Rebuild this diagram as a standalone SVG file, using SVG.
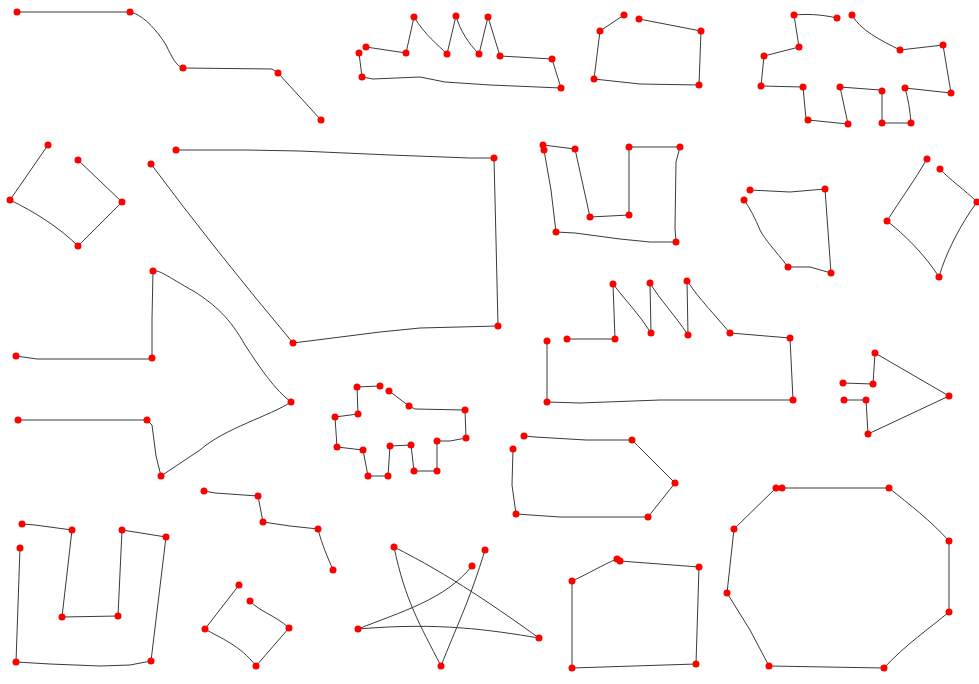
<svg xmlns="http://www.w3.org/2000/svg" width="979" height="684" viewBox="0 0 979 684">
<style>
.ln{fill:none;stroke:#3a3a3a;stroke-width:1;stroke-linejoin:round;stroke-linecap:round}
.pt circle{fill:#ff0000}
</style>
<rect width="979" height="684" fill="#fff"/>
<g id="connectors">
<path class="ln" d="M17,12 L130,12 C145,15 160,35 166,45 C172,57 176,66 183,68 L272,69 L278,73 L321,120"/>
<path class="ln" d="M366,47 L406,53 L414,17 C425,35 438,45 447,54 L456,16 C460,30 468,43 479,54 L488,17 L500,56 L552,59 L561,88 L490,85 L445,82 L420,77 L373,79 L362,77 L359,53"/>
<path class="ln" d="M624,15 L600,31 L594,79 L640,84 L699,85 L701,31 L639,19"/>
<path class="ln" d="M837,18 C820,14 805,14 794,15 L799,47 L764,56 L761,86 L803,87 L806,119 L808,120 L848,124 L840,87 L880,90 L882,91 L882,123 L911,123 C910,110 908,98 905,88 L951,93 L943,45 L900,50 C880,40 860,30 852,15"/>
<path class="ln" d="M48,145 L10,200 C35,212 60,228 78,246 L122,202 L78,160"/>
<path class="ln" d="M176,150 L245,150 L300,151 L390,155 L470,158 L494,158 L496,240 L498,326 L420,328 L380,332 L293,343 Q215,250 151,164"/>
<path class="ln" d="M16,356 L37,359 L152,359 L152,319 L153,271 C160,270 165,275 195,292 C215,305 230,318 245,345 C260,368 275,390 291,402 C270,416 225,428 200,450 L161,476 L156,456 L152,425 L147,420 L18,420"/>
<path class="ln" d="M380,386 L357,387 L358,414 L335,417 L337,447 L363,450 L368,476 L388,476 L390,446 L411,445 L414,471 L437,471 L437,441 L450,441 L466,438 L465,410 L415,409 L409,406 L389,391"/>
<path class="ln" d="M543,145 L575,149 L590,217 L629,215 L629,147 L680,147 L676,162 L675,228 L676,242 L650,242 L620,239 L575,233 L556,232 L551,190 L544,150"/>
<path class="ln" d="M750,190 L790,192 L825,189 L831,273 L810,267 L788,267 C775,250 765,240 760,230 C755,218 750,208 744,200"/>
<path class="ln" d="M927,159 C915,180 900,200 887,221 C905,235 925,255 939,277 C945,255 960,225 977,202 C965,190 950,180 940,169"/>
<path class="ln" d="M567,339 L615,339 L613,284 C625,300 640,315 651,333 L650,283 C660,300 675,315 688,335 L687,281 C700,300 715,315 730,333 L790,338 L793,400 L660,400 L580,403 L547,402 L547,341"/>
<path class="ln" d="M843,383 L873,384 L875,353 L949,396 L868,434 L866,400 L844,400"/>
<path class="ln" d="M524,436 L535,437 L586,440 L632,440 L675,483 L648,517 L560,517 L516,514 L512,485 L513,449"/>
<path class="ln" d="M204,491 L215,493 L258,496 L263,522 L290,526 L318,529 C322,545 328,558 333,570"/>
<path class="ln" d="M22,524 L35,525 L72,530 L62,617 L118,616 L122,530 L166,537 L151,661 L130,665 L100,666 L50,664 L16,662 L20,548"/>
<path class="ln" d="M239,585 L205,629 C220,638 240,645 256,666 L289,628 C275,615 260,612 250,601"/>
<path class="ln" d="M485,550 C470,600 455,630 441,666 C420,625 405,600 394,547 C450,575 500,610 539,638 C490,630 440,622 358,629 C400,612 445,600 472,566"/>
<path class="ln" d="M617,559 C600,566 590,573 572,581 L572,668 L696,664 L699,567 L620,561"/>
<path class="ln" d="M782,488 L889,488 C910,505 930,520 949,541 L949,612 C930,628 905,645 884,668 L769,666 L750,630 L727,593 L734,529 L776,488"/>
</g>
<g id="points" class="pt">
<g id="s1"><circle cx="17" cy="12" r="3.5"/><circle cx="130" cy="12" r="3.5"/><circle cx="183" cy="68" r="3.5"/><circle cx="278" cy="73" r="3.5"/><circle cx="321" cy="120" r="3.5"/></g>
<g id="s2"><circle cx="366" cy="47" r="3.5"/><circle cx="406" cy="53" r="3.5"/><circle cx="414" cy="17" r="3.5"/><circle cx="447" cy="54" r="3.5"/><circle cx="456" cy="16" r="3.5"/><circle cx="479" cy="54" r="3.5"/><circle cx="488" cy="17" r="3.5"/><circle cx="500" cy="56" r="3.5"/><circle cx="552" cy="59" r="3.5"/><circle cx="561" cy="88" r="3.5"/><circle cx="362" cy="77" r="3.5"/><circle cx="359" cy="53" r="3.5"/></g>
<g id="s3"><circle cx="624" cy="15" r="3.5"/><circle cx="600" cy="31" r="3.5"/><circle cx="594" cy="79" r="3.5"/><circle cx="699" cy="85" r="3.5"/><circle cx="701" cy="31" r="3.5"/><circle cx="639" cy="19" r="3.5"/></g>
<g id="s4"><circle cx="837" cy="18" r="3.5"/><circle cx="794" cy="15" r="3.5"/><circle cx="799" cy="47" r="3.5"/><circle cx="764" cy="56" r="3.5"/><circle cx="761" cy="86" r="3.5"/><circle cx="803" cy="87" r="3.5"/><circle cx="808" cy="120" r="3.5"/><circle cx="848" cy="124" r="3.5"/><circle cx="840" cy="87" r="3.5"/><circle cx="882" cy="91" r="3.5"/><circle cx="882" cy="123" r="3.5"/><circle cx="911" cy="123" r="3.5"/><circle cx="905" cy="88" r="3.5"/><circle cx="951" cy="93" r="3.5"/><circle cx="943" cy="45" r="3.5"/><circle cx="900" cy="50" r="3.5"/><circle cx="852" cy="15" r="3.5"/></g>
<g id="s5"><circle cx="48" cy="145" r="3.5"/><circle cx="10" cy="200" r="3.5"/><circle cx="78" cy="246" r="3.5"/><circle cx="122" cy="202" r="3.5"/><circle cx="78" cy="160" r="3.5"/></g>
<g id="s6"><circle cx="176" cy="150" r="3.5"/><circle cx="494" cy="158" r="3.5"/><circle cx="498" cy="326" r="3.5"/><circle cx="293" cy="343" r="3.5"/><circle cx="151" cy="164" r="3.5"/></g>
<g id="s7"><circle cx="16" cy="356" r="3.5"/><circle cx="152" cy="358" r="3.5"/><circle cx="153" cy="271" r="3.5"/><circle cx="291" cy="402" r="3.5"/><circle cx="161" cy="476" r="3.5"/><circle cx="147" cy="420" r="3.5"/><circle cx="18" cy="420" r="3.5"/></g>
<g id="s8"><circle cx="380" cy="386" r="3.5"/><circle cx="357" cy="387" r="3.5"/><circle cx="358" cy="414" r="3.5"/><circle cx="335" cy="417" r="3.5"/><circle cx="337" cy="447" r="3.5"/><circle cx="363" cy="450" r="3.5"/><circle cx="368" cy="476" r="3.5"/><circle cx="388" cy="476" r="3.5"/><circle cx="390" cy="446" r="3.5"/><circle cx="411" cy="445" r="3.5"/><circle cx="414" cy="471" r="3.5"/><circle cx="437" cy="471" r="3.5"/><circle cx="437" cy="441" r="3.5"/><circle cx="466" cy="438" r="3.5"/><circle cx="465" cy="410" r="3.5"/><circle cx="409" cy="406" r="3.5"/><circle cx="389" cy="391" r="3.5"/></g>
<g id="s9"><circle cx="543" cy="145" r="3.5"/><circle cx="544" cy="150" r="3.5"/><circle cx="575" cy="149" r="3.5"/><circle cx="590" cy="217" r="3.5"/><circle cx="629" cy="215" r="3.5"/><circle cx="629" cy="147" r="3.5"/><circle cx="680" cy="147" r="3.5"/><circle cx="676" cy="242" r="3.5"/><circle cx="556" cy="232" r="3.5"/></g>
<g id="s10"><circle cx="750" cy="190" r="3.5"/><circle cx="825" cy="189" r="3.5"/><circle cx="831" cy="273" r="3.5"/><circle cx="788" cy="267" r="3.5"/><circle cx="744" cy="200" r="3.5"/></g>
<g id="s11"><circle cx="927" cy="159" r="3.5"/><circle cx="887" cy="221" r="3.5"/><circle cx="939" cy="277" r="3.5"/><circle cx="977" cy="202" r="3.5"/><circle cx="940" cy="169" r="3.5"/></g>
<g id="s12"><circle cx="567" cy="339" r="3.5"/><circle cx="615" cy="339" r="3.5"/><circle cx="613" cy="284" r="3.5"/><circle cx="651" cy="333" r="3.5"/><circle cx="650" cy="283" r="3.5"/><circle cx="688" cy="335" r="3.5"/><circle cx="687" cy="281" r="3.5"/><circle cx="730" cy="333" r="3.5"/><circle cx="790" cy="338" r="3.5"/><circle cx="793" cy="400" r="3.5"/><circle cx="547" cy="402" r="3.5"/><circle cx="547" cy="341" r="3.5"/></g>
<g id="s13"><circle cx="843" cy="383" r="3.5"/><circle cx="873" cy="384" r="3.5"/><circle cx="875" cy="353" r="3.5"/><circle cx="949" cy="396" r="3.5"/><circle cx="868" cy="434" r="3.5"/><circle cx="866" cy="400" r="3.5"/><circle cx="844" cy="400" r="3.5"/></g>
<g id="s14"><circle cx="524" cy="436" r="3.5"/><circle cx="632" cy="440" r="3.5"/><circle cx="675" cy="483" r="3.5"/><circle cx="648" cy="517" r="3.5"/><circle cx="516" cy="514" r="3.5"/><circle cx="513" cy="449" r="3.5"/></g>
<g id="s15"><circle cx="204" cy="491" r="3.5"/><circle cx="258" cy="496" r="3.5"/><circle cx="263" cy="522" r="3.5"/><circle cx="318" cy="529" r="3.5"/><circle cx="333" cy="570" r="3.5"/></g>
<g id="s16"><circle cx="22" cy="524" r="3.5"/><circle cx="72" cy="530" r="3.5"/><circle cx="62" cy="617" r="3.5"/><circle cx="118" cy="616" r="3.5"/><circle cx="122" cy="530" r="3.5"/><circle cx="166" cy="537" r="3.5"/><circle cx="151" cy="661" r="3.5"/><circle cx="16" cy="662" r="3.5"/><circle cx="20" cy="548" r="3.5"/></g>
<g id="s17"><circle cx="239" cy="585" r="3.5"/><circle cx="205" cy="629" r="3.5"/><circle cx="256" cy="666" r="3.5"/><circle cx="289" cy="628" r="3.5"/><circle cx="250" cy="601" r="3.5"/></g>
<g id="s18"><circle cx="485" cy="550" r="3.5"/><circle cx="441" cy="666" r="3.5"/><circle cx="394" cy="547" r="3.5"/><circle cx="539" cy="638" r="3.5"/><circle cx="358" cy="629" r="3.5"/><circle cx="472" cy="566" r="3.5"/></g>
<g id="s19"><circle cx="617" cy="559" r="3.5"/><circle cx="620" cy="561" r="3.5"/><circle cx="572" cy="581" r="3.5"/><circle cx="572" cy="668" r="3.5"/><circle cx="696" cy="664" r="3.5"/><circle cx="699" cy="567" r="3.5"/></g>
<g id="s20"><circle cx="776" cy="488" r="3.5"/><circle cx="782" cy="488" r="3.5"/><circle cx="889" cy="488" r="3.5"/><circle cx="949" cy="541" r="3.5"/><circle cx="949" cy="612" r="3.5"/><circle cx="884" cy="668" r="3.5"/><circle cx="769" cy="666" r="3.5"/><circle cx="727" cy="593" r="3.5"/><circle cx="734" cy="529" r="3.5"/></g>
</g>
</svg>
